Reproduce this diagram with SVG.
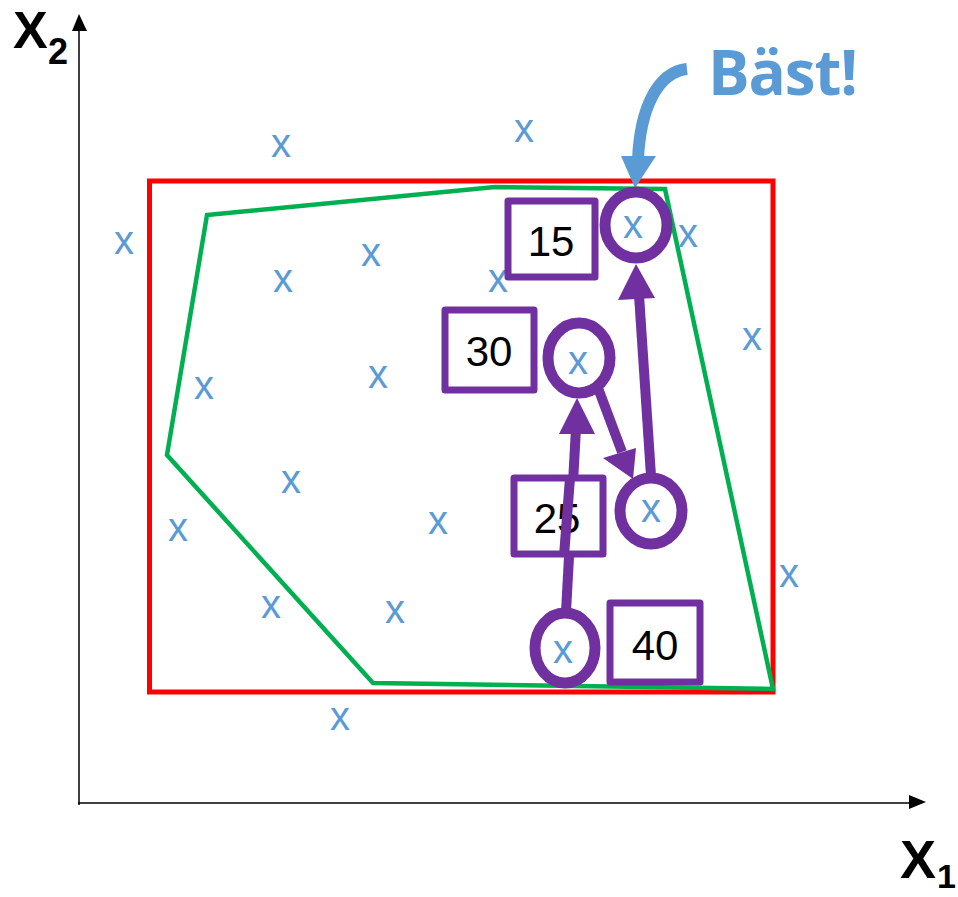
<svg xmlns="http://www.w3.org/2000/svg" width="958" height="897" viewBox="0 0 958 897">
<defs>
<style>
.pt{font-family:"Liberation Sans",Arial,sans-serif;font-size:40px;fill:#5B9BD5;text-anchor:middle}
.num{font-family:"Liberation Sans",Arial,sans-serif;font-size:42px;fill:#000;text-anchor:middle}
.box{fill:#fff;stroke:#7030A0;stroke-width:7;stroke-linejoin:round}
.ring{fill:#fff;stroke:#7030A0;stroke-width:11}
.ax{font-family:"Liberation Sans",Arial,sans-serif;font-weight:bold;fill:#000}
.pa{stroke:#7030A0;stroke-width:10;fill:none}
</style>
</defs>
<rect width="958" height="897" fill="#fff"/>
<g id="axes">
<line x1="79" y1="805" x2="79" y2="30" stroke="#000" stroke-width="1.5"/>
<polygon points="79,14 72,31 87,31" fill="#000"/>
<line x1="78" y1="803" x2="910" y2="803" stroke="#000" stroke-width="1.5"/>
<polygon points="926,802 909,795 909,809" fill="#000"/>
<text class="ax" x="13" y="48" font-size="52">X</text>
<text class="ax" x="48" y="64" font-size="36">2</text>
<text class="ax" x="900" y="878" font-size="54">X</text>
<text class="ax" x="937" y="888" font-size="34">1</text>
</g>
<g id="bounds">
<rect x="149.5" y="181" width="623.5" height="511" fill="none" stroke="#FF0000" stroke-width="5"/>
<polygon points="207,215 495,187 665,189 773,689 373,683 167,455" fill="none" stroke="#00B050" stroke-width="4.5" stroke-linejoin="miter"/>
</g>
<g id="points">
<text class="pt" x="281" y="157">x</text>
<text class="pt" x="524" y="142">x</text>
<text class="pt" x="124" y="254">x</text>
<text class="pt" x="283" y="292">x</text>
<text class="pt" x="371" y="266">x</text>
<text class="pt" x="498" y="292">x</text>
<text class="pt" x="688" y="247">x</text>
<text class="pt" x="752" y="350">x</text>
<text class="pt" x="204" y="399">x</text>
<text class="pt" x="378" y="388">x</text>
<text class="pt" x="291" y="493">x</text>
<text class="pt" x="178" y="541">x</text>
<text class="pt" x="438" y="534">x</text>
<text class="pt" x="271" y="618">x</text>
<text class="pt" x="395" y="623">x</text>
<text class="pt" x="789" y="587">x</text>
<text class="pt" x="340" y="730">x</text>
</g>
<g id="connectors">
<line class="pa" x1="566" y1="612" x2="576" y2="428"/>
<polygon points="577,398 559,434 595,434" fill="#7030A0"/>
<line class="pa" x1="598" y1="388" x2="622" y2="452"/>
<polygon points="633,479 603,458 636,448" fill="#7030A0"/>
<line class="pa" x1="651" y1="476" x2="639" y2="295"/>
<polygon points="636,264 618,300 655,298" fill="#7030A0"/>
<path d="M687,69 C658,72 640,108 638,160" fill="none" stroke="#5B9BD5" stroke-width="12"/>
<polygon points="635,188 621,156 656,156" fill="#5B9BD5"/>
</g>
<g id="n15">
<rect class="box" x="508" y="201" width="87" height="76"/>
<text class="num" x="551" y="256">15</text>
</g>
<g id="c15">
<ellipse class="ring" cx="636" cy="225" rx="31" ry="33"/>
<text class="pt" x="633" y="238">x</text>
</g>
<g id="n30">
<rect class="box" x="445" y="310" width="89" height="80"/>
<text class="num" x="489" y="366">30</text>
</g>
<g id="c30">
<ellipse class="ring" cx="579" cy="358" rx="31" ry="35"/>
<text class="pt" x="578" y="374">x</text>
</g>
<g id="n25">
<rect class="box" x="514" y="478" width="89" height="76"/>
<text class="num" x="557" y="533">25</text>
<line class="pa" x1="564" y1="556" x2="570" y2="478"/>
</g>
<g id="c3">
<ellipse class="ring" cx="651" cy="511" rx="31" ry="33"/>
<text class="pt" x="651" y="522">x</text>
</g>
<g id="c40">
<ellipse class="ring" cx="565" cy="648" rx="30" ry="35"/>
<text class="pt" x="563" y="663">x</text>
</g>
<g id="n40">
<rect class="box" x="610" y="603" width="90" height="79"/>
<text class="num" x="655" y="660">40</text>
</g>
<g id="best">
<text x="708" y="95" font-family="'Open Sans','Liberation Sans',sans-serif" font-weight="bold" font-size="62" fill="#5B9BD5" textLength="150">Bäst!</text>
</g>
</svg>
